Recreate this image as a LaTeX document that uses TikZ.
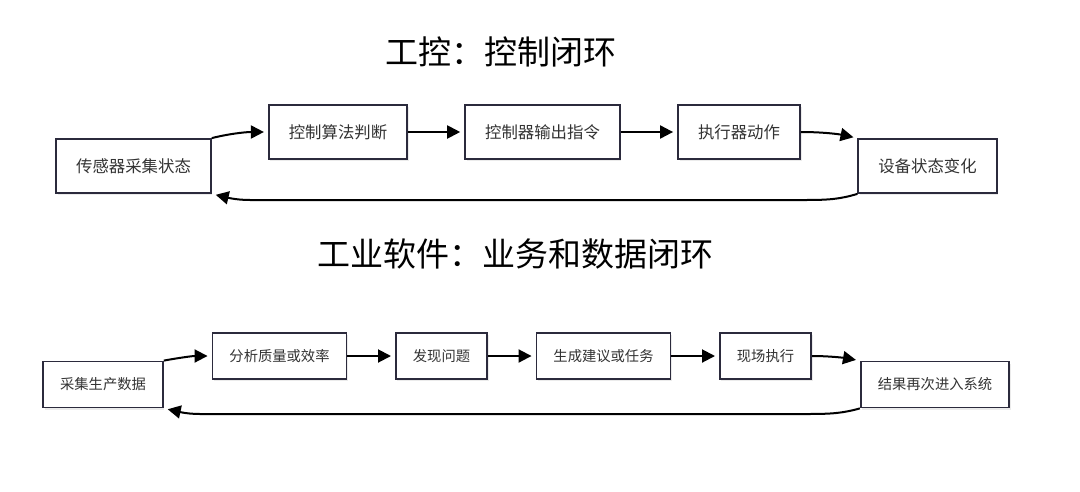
\documentclass[tikz,border=0pt]{standalone}
\usepackage{fontspec}
\setmainfont{Noto Sans CJK SC}
\usetikzlibrary{arrows.meta,shadows}
\definecolor{boxline}{HTML}{2B2A3C}
\definecolor{boxtext}{HTML}{333333}
\begin{document}
\begin{tikzpicture}[x=1pt,y=-1pt,
  stepbox/.style={draw=boxline,line width=1.8pt,fill=white,text=boxtext,
    drop shadow={shadow xshift=1.5pt,shadow yshift=-2pt,fill=black,opacity=0.08}},
  topbox/.style={stepbox,minimum height=54pt,inner xsep=20pt,font=\fontsize{16.4}{18}\selectfont},
  lowbox/.style={stepbox,minimum height=46pt,inner xsep=17pt,font=\fontsize{14.3}{16}\selectfont},
  flow/.style={line width=2pt,-{Triangle[length=13pt,width=13pt]},shorten >=4pt},
  heading/.style={font=\fontsize{33}{36}\selectfont,inner sep=0pt}]
\useasboundingbox (0,0) rectangle (1080,491);
\node [heading] (t1) at (501,52) {工控：控制闭环};
\node [topbox] (s1) at (133.5,166) {传感器采集状态};
\node [topbox] (s2) at (338,132) {控制算法判断};
\node [topbox] (s3) at (542.5,132) {控制器输出指令};
\node [topbox] (s4) at (739,132) {执行器动作};
\node [topbox] (s5) at (927.5,166) {设备状态变化};
\draw [flow] (s1.north east) .. controls (228,134) and (245,132) .. (s2.west);
\draw [flow] (s2) -- (s3);
\draw [flow] (s3) -- (s4);
\draw [flow] (s4.east) .. controls (822,132) and (838,134) .. (s5.north west);
\draw [flow] (s5.south west) .. controls (840,199) and (830,200) .. (805,200) -- (250,200) .. controls (235,200) and (225,197) .. (s1.south east);
\node [heading] (t2) at (515,254) {工业软件：业务和数据闭环};
\node [lowbox] (b1) at (103,384.5) {采集生产数据};
\node [lowbox] (b2) at (279.5,356) {分析质量或效率};
\node [lowbox] (b3) at (441.5,356) {发现问题};
\node [lowbox] (b4) at (603.5,356) {生成建议或任务};
\node [lowbox] (b5) at (765.5,356) {现场执行};
\node [lowbox] (b6) at (935,384.5) {结果再次进入系统};
\draw [flow] (b1.north east) .. controls (178,358) and (192,356) .. (b2.west);
\draw [flow] (b2) -- (b3);
\draw [flow] (b3) -- (b4);
\draw [flow] (b4) -- (b5);
\draw [flow] (b5.east) .. controls (830,356) and (845,358) .. (b6.north west);
\draw [flow] (b6.south west) .. controls (843,413) and (833,414) .. (808,414) -- (200,414) .. controls (185,414) and (176,411) .. (b1.south east);
\end{tikzpicture}
\end{document}
